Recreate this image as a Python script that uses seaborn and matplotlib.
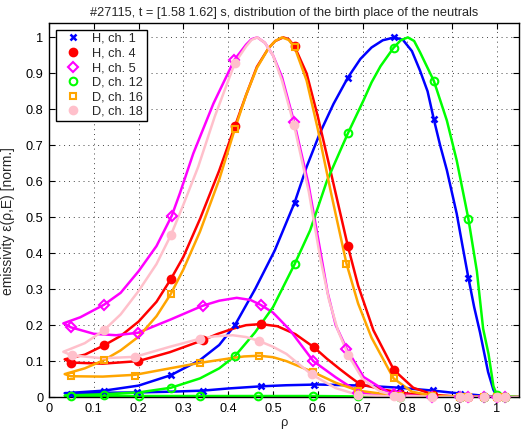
import seaborn as sns
import matplotlib
matplotlib.use("Agg")
import matplotlib.pyplot as plt
import numpy as np

# ---- data ----
# each curve is one path along the line of sight: lower branch inwards, upper branch outwards
h1_rho = [1.05, 1.0, 0.96, 0.917, 0.858, 0.783, 0.7, 0.6, 0.53, 0.473, 0.4, 0.343, 0.27, 0.196, 0.123, 0.05, 0.035,
          0.05, 0.123, 0.2, 0.272, 0.337, 0.38, 0.415, 0.46, 0.504, 0.548, 0.575, 0.605, 0.635, 0.667, 0.695, 0.72,
          0.745, 0.771, 0.79, 0.81, 0.828, 0.845, 0.859, 0.873, 0.888, 0.91, 0.923, 0.936, 0.949, 0.962, 0.98,
          0.992, 1.0, 1.05]
h1_eps = [0, 0.001, 0.005, 0.01, 0.018, 0.026, 0.032, 0.035, 0.033, 0.03, 0.024, 0.018, 0.015, 0.013, 0.012, 0.01, 0.011,
          0.012, 0.018, 0.032, 0.061, 0.103, 0.145, 0.2, 0.3, 0.408, 0.54, 0.64, 0.735, 0.815, 0.888, 0.94, 0.972,
          0.992, 1.0, 0.993, 0.962, 0.908, 0.85, 0.772, 0.7, 0.631, 0.51, 0.42, 0.332, 0.25, 0.18, 0.07,
          0.02, 0.003, 0]

h4_rho = [1.05, 1.0, 0.92, 0.857, 0.8, 0.75, 0.694, 0.672, 0.65, 0.62, 0.592, 0.55, 0.51, 0.473, 0.44, 0.41, 0.375,
          0.343, 0.27, 0.199, 0.12, 0.049, 0.035,
          0.08, 0.123, 0.16, 0.2, 0.24, 0.272, 0.3, 0.337, 0.38, 0.415, 0.44, 0.464, 0.49, 0.505, 0.523, 0.535,
          0.548, 0.575, 0.6, 0.63, 0.667, 0.69, 0.724, 0.77, 0.813, 0.86, 0.92, 1.0, 1.05]
h4_eps = [0, 0, 0.001, 0.003, 0.01, 0.02, 0.036, 0.056, 0.077, 0.107, 0.138, 0.175, 0.197, 0.203, 0.2, 0.19, 0.175,
          0.158, 0.125, 0.1, 0.093, 0.096, 0.105,
          0.118, 0.144, 0.17, 0.21, 0.265, 0.328, 0.39, 0.495, 0.63, 0.753, 0.84, 0.918, 0.97, 0.99, 1.0, 0.995,
          0.975, 0.9, 0.78, 0.62, 0.42, 0.31, 0.186, 0.075, 0.026, 0.006, 0.001, 0, 0]

h5_rho = [1.05, 1.0, 0.86, 0.78, 0.72, 0.69, 0.672, 0.64, 0.59, 0.538, 0.5, 0.473, 0.45, 0.419, 0.38, 0.343, 0.27,
          0.199, 0.15, 0.1, 0.049, 0.032,
          0.07, 0.123, 0.16, 0.2, 0.24, 0.274, 0.292, 0.322, 0.367, 0.414, 0.44, 0.452, 0.465, 0.482, 0.5, 0.52,
          0.547, 0.579, 0.605, 0.622, 0.64, 0.664, 0.702, 0.761, 0.85, 1.0, 1.05]
h5_eps = [0, 0, 0, 0.002, 0.007, 0.015, 0.029, 0.055, 0.1, 0.186, 0.235, 0.256, 0.27, 0.276, 0.268, 0.254, 0.215,
          0.179, 0.172, 0.176, 0.194, 0.205,
          0.222, 0.257, 0.29, 0.35, 0.42, 0.504, 0.566, 0.677, 0.816, 0.938, 0.98, 0.995, 1.0, 0.985, 0.95, 0.89,
          0.765, 0.593, 0.41, 0.29, 0.2, 0.135, 0.056, 0.01, 0.001, 0, 0]

d12_rho = [1.05, 1.0, 0.9, 0.8, 0.69, 0.59, 0.467, 0.336, 0.2, 0.05, 0.035,
           0.05, 0.123, 0.2, 0.272, 0.337, 0.38, 0.415, 0.46, 0.5, 0.548, 0.583, 0.62, 0.667, 0.702, 0.72, 0.74,
           0.769, 0.785, 0.801, 0.815, 0.828, 0.859, 0.888, 0.91, 0.936, 0.955, 0.969, 0.981, 0.992, 1.0, 1.05]
d12_eps = [0, 0, 0, 0.001, 0.002, 0.003, 0.003, 0.003, 0.003, 0.003, 0.004,
           0.005, 0.008, 0.013, 0.026, 0.052, 0.08, 0.114, 0.18, 0.25, 0.369, 0.464, 0.6, 0.733, 0.825, 0.875, 0.92,
           0.971, 0.992, 1.0, 0.99, 0.959, 0.879, 0.769, 0.658, 0.496, 0.35, 0.19, 0.12, 0.03, 0.005, 0]

d16_rho = [1.05, 1.0, 0.86, 0.77, 0.69, 0.64, 0.589, 0.53, 0.5, 0.469, 0.435, 0.4, 0.336, 0.27, 0.192, 0.12, 0.049,
           0.035,
           0.08, 0.123, 0.16, 0.2, 0.24, 0.272, 0.3, 0.337, 0.38, 0.415, 0.44, 0.464, 0.49, 0.505, 0.52, 0.535,
           0.548, 0.575, 0.6, 0.63, 0.664, 0.69, 0.72, 0.769, 0.81, 0.86, 0.92, 1.0, 1.05]
d16_eps = [0, 0, 0.001, 0.005, 0.018, 0.04, 0.07, 0.1, 0.111, 0.115, 0.113, 0.107, 0.095, 0.08, 0.062, 0.057, 0.058,
           0.064,
           0.08, 0.103, 0.13, 0.168, 0.225, 0.287, 0.355, 0.46, 0.605, 0.746, 0.84, 0.915, 0.97, 0.99, 1.0, 0.993,
           0.973, 0.88, 0.745, 0.565, 0.371, 0.26, 0.165, 0.052, 0.015, 0.003, 0, 0, 0]

d18_rho = [1.05, 1.0, 0.86, 0.78, 0.69, 0.64, 0.586, 0.53, 0.5, 0.469, 0.44, 0.41, 0.37, 0.336, 0.27, 0.192, 0.12,
           0.051, 0.032,
           0.08, 0.123, 0.16, 0.2, 0.24, 0.272, 0.3, 0.333, 0.37, 0.415, 0.44, 0.452, 0.465, 0.482, 0.5, 0.52,
           0.547, 0.58, 0.605, 0.625, 0.645, 0.668, 0.7, 0.74, 0.78, 0.86, 1.0, 1.05]
d18_eps = [0, 0, 0, 0.001, 0.006, 0.025, 0.063, 0.12, 0.14, 0.156, 0.167, 0.172, 0.169, 0.162, 0.14, 0.112, 0.108,
           0.116, 0.126,
           0.15, 0.186, 0.23, 0.295, 0.37, 0.45, 0.535, 0.64, 0.78, 0.929, 0.975, 0.993, 1.0, 0.985, 0.95, 0.88,
           0.756, 0.57, 0.39, 0.27, 0.185, 0.117, 0.05, 0.015, 0.003, 0, 0, 0]

# marker positions (sample points)
h1_mrho = [0.049, 0.196, 0.343, 0.473, 0.592, 0.69, 0.783, 0.858, 0.917, 0.971, 1.018,
           0.123, 0.272, 0.415, 0.548, 0.667, 0.771, 0.859, 0.936, 1.0]
h1_meps = [0.01, 0.013, 0.018, 0.03, 0.035, 0.032, 0.026, 0.019, 0.01, 0.003, 0,
           0.018, 0.061, 0.2, 0.54, 0.888, 1.0, 0.772, 0.332, 0.003]
h4_mrho = [0.049, 0.199, 0.343, 0.473, 0.592, 0.694, 0.783, 0.917, 0.971, 1.018,
           0.123, 0.272, 0.415, 0.548, 0.667, 0.77, 0.857, 0.936, 1.0]
h4_meps = [0.096, 0.1, 0.158, 0.203, 0.138, 0.036, 0.009, 0.001, 0, 0,
           0.144, 0.328, 0.753, 0.975, 0.42, 0.075, 0.006, 0, 0]
h5_mrho = [0.049, 0.199, 0.343, 0.473, 0.59, 0.69, 0.783, 0.917, 0.971, 1.018,
           0.123, 0.274, 0.414, 0.547, 0.664, 0.771, 0.855, 0.936, 1.0]
h5_meps = [0.194, 0.179, 0.254, 0.256, 0.1, 0.012, 0.002, 0, 0, 0,
           0.257, 0.504, 0.938, 0.765, 0.135, 0.008, 0.001, 0, 0]
d12_mrho = [0.049, 0.2, 0.336, 0.467, 0.589, 0.69, 0.783, 0.917, 0.971, 1.018,
            0.123, 0.272, 0.415, 0.548, 0.667, 0.769, 0.859, 0.936, 1.0]
d12_meps = [0.003, 0.003, 0.003, 0.003, 0.003, 0.002, 0.001, 0, 0, 0,
            0.007, 0.026, 0.114, 0.369, 0.733, 0.971, 0.879, 0.496, 0.006]
d16_mrho = [0.049, 0.192, 0.336, 0.469, 0.589, 0.69, 0.783, 0.917, 0.971, 1.018,
            0.123, 0.272, 0.415, 0.548, 0.664, 0.769, 0.855, 0.936, 1.0]
d16_meps = [0.058, 0.06, 0.095, 0.115, 0.07, 0.018, 0.004, 0, 0, 0,
            0.103, 0.287, 0.746, 0.973, 0.371, 0.052, 0.002, 0, 0]
d18_mrho = [0.051, 0.192, 0.336, 0.469, 0.586, 0.69, 0.783, 0.917, 0.971, 1.018,
            0.123, 0.272, 0.415, 0.547, 0.668, 0.771, 0.855, 0.936, 1.0]
d18_meps = [0.116, 0.112, 0.162, 0.156, 0.063, 0.006, 0.001, 0, 0, 0,
            0.186, 0.45, 0.929, 0.756, 0.117, 0.003, 0, 0, 0]

labels = ["H, ch. 1", "H, ch. 4", "H, ch. 5", "D, ch. 12", "D, ch. 16", "D, ch. 18"]
colors = ["#0000ff", "#ff0000", "#ff00ff", "#00ff00", "#ffa500", "#ffc0cb"]
markers = ["x", "o", "D", "o", "s", "o"]
filled = [True, True, False, False, False, True]
msizes = [4.5, 5.5, 5, 5.5, 5, 5.5]

paths = [(h1_rho, h1_eps), (h4_rho, h4_eps), (h5_rho, h5_eps),
         (d12_rho, d12_eps), (d16_rho, d16_eps), (d18_rho, d18_eps)]
marks = [(h1_mrho, h1_meps), (h4_mrho, h4_meps), (h5_mrho, h5_meps),
         (d12_mrho, d12_meps), (d16_mrho, d16_meps), (d18_mrho, d18_meps)]

sns.set_style("ticks")
plt.rcParams["font.family"] = ["Liberation Sans", "DejaVu Sans"]
plt.rcParams["font.size"] = 9.2

fig = plt.figure(figsize=(5.21, 4.34), dpi=100)
ax = fig.add_axes([0.094, 0.085, 0.903, 0.862])

handles = []
for (pr, pe), (mr, me), lab, col, mk, fl, ms in zip(paths, marks, labels, colors, markers, filled, msizes):
    sns.lineplot(x=pr, y=pe, sort=False, estimator=None, color=col, lw=1.8, ax=ax)
    h, = ax.plot(mr, me, ls="none", marker=mk, ms=ms, mew=1.5 if mk != "x" else 1.8,
                 mfc=col if fl else "none", mec=col, color=col, label=lab, clip_on=False, zorder=3)
    handles.append(h)
for ln in ax.lines:
    ln.set_solid_joinstyle("round")

ax.set_xlim(0, 1.05)
ax.set_ylim(0, 1.04)
ax.set_xticks(np.arange(0, 1.01, 0.1))
ax.set_yticks(np.arange(0, 1.01, 0.1))
ax.set_xticklabels(["0", "0.1", "0.2", "0.3", "0.4", "0.5", "0.6", "0.7", "0.8", "0.9", "1"])
ax.set_yticklabels(["0", "0.1", "0.2", "0.3", "0.4", "0.5", "0.6", "0.7", "0.8", "0.9", "1"])
ax.tick_params(direction="in", top=True, right=True, length=4, width=0.8, labelsize=9.2, pad=4, colors="black")
ax.grid(True, color="#444444", linestyle=(0, (1, 4)), linewidth=0.7)
for sp in ax.spines.values():
    sp.set_color("black")
    sp.set_linewidth(1.0)

ax.set_xlabel("ρ", fontsize=9.2, labelpad=2)
ax.set_ylabel("emissivity ε(ρ,E) [norm.]", fontsize=10, labelpad=2)
ax.yaxis.set_label_coords(-0.072, 0.47)
ax.set_title("#27115, t = [1.58 1.62] s, distribution of the birth place of the neutrals", fontsize=9.2, pad=5)

leg = ax.legend(handles=handles, loc="upper left", bbox_to_anchor=(0.015, 0.982), fontsize=9.2,
                frameon=True, fancybox=False, edgecolor="black", framealpha=1, borderpad=0.25,
                labelspacing=0.2, handlelength=2.2, handletextpad=0.4, borderaxespad=0)
leg.get_frame().set_linewidth(1.0)

fig.savefig("out.png", dpi=100)
